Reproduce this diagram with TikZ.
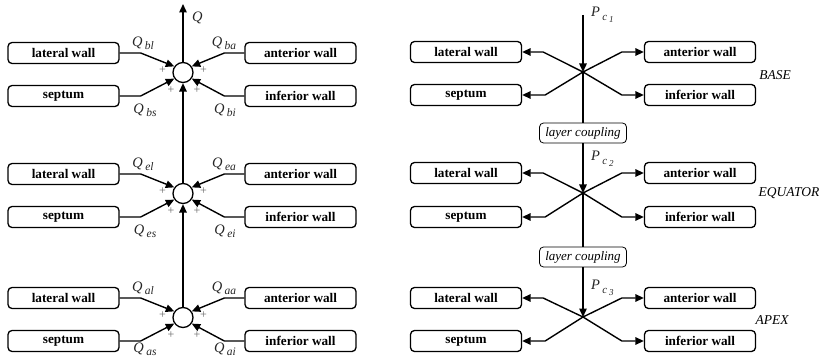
\documentclass[tikz,border=0pt]{standalone}
\usepackage{fontspec}
\setmainfont{Liberation Serif}
\usetikzlibrary{arrows.meta}

\tikzset{
  wall/.style={draw, rounded corners=4pt, line width=1.3pt, minimum width=111pt,
    minimum height=21pt, inner sep=0pt, font=\fontsize{13.2}{15}\selectfont\bfseries},
  coupling/.style={draw, rounded corners=4pt, line width=0.8pt, minimum width=87pt,
    minimum height=20pt, inner sep=0pt, font=\fontsize{13}{15}\selectfont\itshape},
  sumnode/.style={circle, draw, fill=white, line width=1.3pt, minimum size=20pt, inner sep=0pt},
  link/.style={line width=1.4pt},
  arr/.style={link, -{Triangle[length=8.5pt,width=7.5pt]}},
  flow/.style={font=\fontsize{14.5}{16}\selectfont\itshape, text=black!85, inner sep=0pt},
  sign/.style={font=\fontsize{12}{13}\selectfont, text=black!60, inner sep=0pt},
  layername/.style={font=\fontsize{13.5}{15}\selectfont\itshape, inner sep=0pt},
}
% flow symbols with detached subscripts
\newcommand\flowQ[1]{Q\,\raisebox{-0.5ex}{\fontsize{11.5}{12}\selectfont #1}}
\newcommand\flowP[1]{P\,\raisebox{-0.6ex}{\fontsize{11}{12}\selectfont c\,\raisebox{-0.4ex}{\fontsize{9}{10}\selectfont #1}}}

\begin{document}
\begin{tikzpicture}[x=1pt, y=-1pt]
\useasboundingbox (0,0) rectangle (821,358);

% ---------- left: flow summation per layer ----------
\foreach \lv/\U/\L/\C/\D in {b/53/96/72.5/14, e/174/217/193.5/14, a/298/341/317.5/8} {
  \node[wall] (lw\lv) at (63.5,\U) {lateral wall};
  \node[wall] (sp\lv) at (63.5,\L) {septum};
  \node[wall] (aw\lv) at (300.5,\U) {anterior wall};
  \node[wall] (iw\lv) at (300.5,\L) {inferior wall};
  \node[sumnode] (c\lv) at (183,\C) {};
  \draw[arr] (lw\lv.east) -- ++(21,0) -- (c\lv.145);
  \draw[arr] (sp\lv.east) -- ++(21,0) -- (c\lv.215);
  \draw[arr] (aw\lv.west) -- ++(-20,0) -- (c\lv.35);
  \draw[arr] (iw\lv.west) -- ++(-20,0) -- (c\lv.-35);
  \node[sign] at (162.5,\C-2) {+};
  \node[sign] at (203.5,\C-2) {+};
  \node[sign] at (171,\C+18) {+};
  \node[sign] at (197,\C+18) {+};
  \node[flow] at (143,\U-10) {\flowQ{\lv l}};
  \node[flow] at (224,\U-10) {\flowQ{\lv a}};
  \node[flow] at (145,\L+\D) {\flowQ{\lv s}};
  \node[flow] at (225,\L+\D) {\flowQ{\lv i}};
}
\coordinate (qtop) at (183,4);
\draw[arr] (ca.north) -- (ce.south);
\draw[arr] (ce.north) -- (cb.south);
\draw[arr] (cb.north) -- (qtop);
\node[flow, anchor=west] at (192,18) {Q};

% ---------- right: pressure distribution per layer ----------
\foreach \lv/\U/\L/\X in {b/52/95/72, e/173/217/193, a/298/341/317} {
  \node[wall] (rlw\lv) at (466,\U) {lateral wall};
  \node[wall] (rsp\lv) at (466,\L) {septum};
  \node[wall] (raw\lv) at (700,\U) {anterior wall};
  \node[wall] (riw\lv) at (700,\L) {inferior wall};
  \coordinate (x\lv) at (583,\X);
  \draw[arr] (x\lv) -- ([xshift=21pt]rlw\lv.east) -- (rlw\lv.east);
  \draw[arr] (x\lv) -- ([xshift=23pt]rsp\lv.east) -- (rsp\lv.east);
  \draw[arr] (x\lv) -- ([xshift=-22pt]raw\lv.west) -- (raw\lv.west);
  \draw[arr] (x\lv) -- ([xshift=-22pt]riw\lv.west) -- (riw\lv.west);
}
\node[coupling] (lc1) at (583,133) {layer coupling};
\node[coupling] (lc2) at (583,257) {layer coupling};
\coordinate (pin) at (583,15);
\draw[arr] (pin) -- (xb);
\draw[link] (xb) -- (lc1.north);
\draw[arr] (lc1.south) -- (xe);
\draw[link] (xe) -- (lc2.north);
\draw[arr] (lc2.south) -- (xa);

\node[flow, anchor=west] at (591,15) {\flowP{1}};
\node[flow, anchor=west] at (591,159) {\flowP{2}};
\node[flow, anchor=west] at (591,288) {\flowP{3}};

\node[layername] at (775,75) {BASE};
\node[layername] at (789,193) {EQUATOR};
\node[layername] at (772,320) {APEX};
\end{tikzpicture}
\end{document}
